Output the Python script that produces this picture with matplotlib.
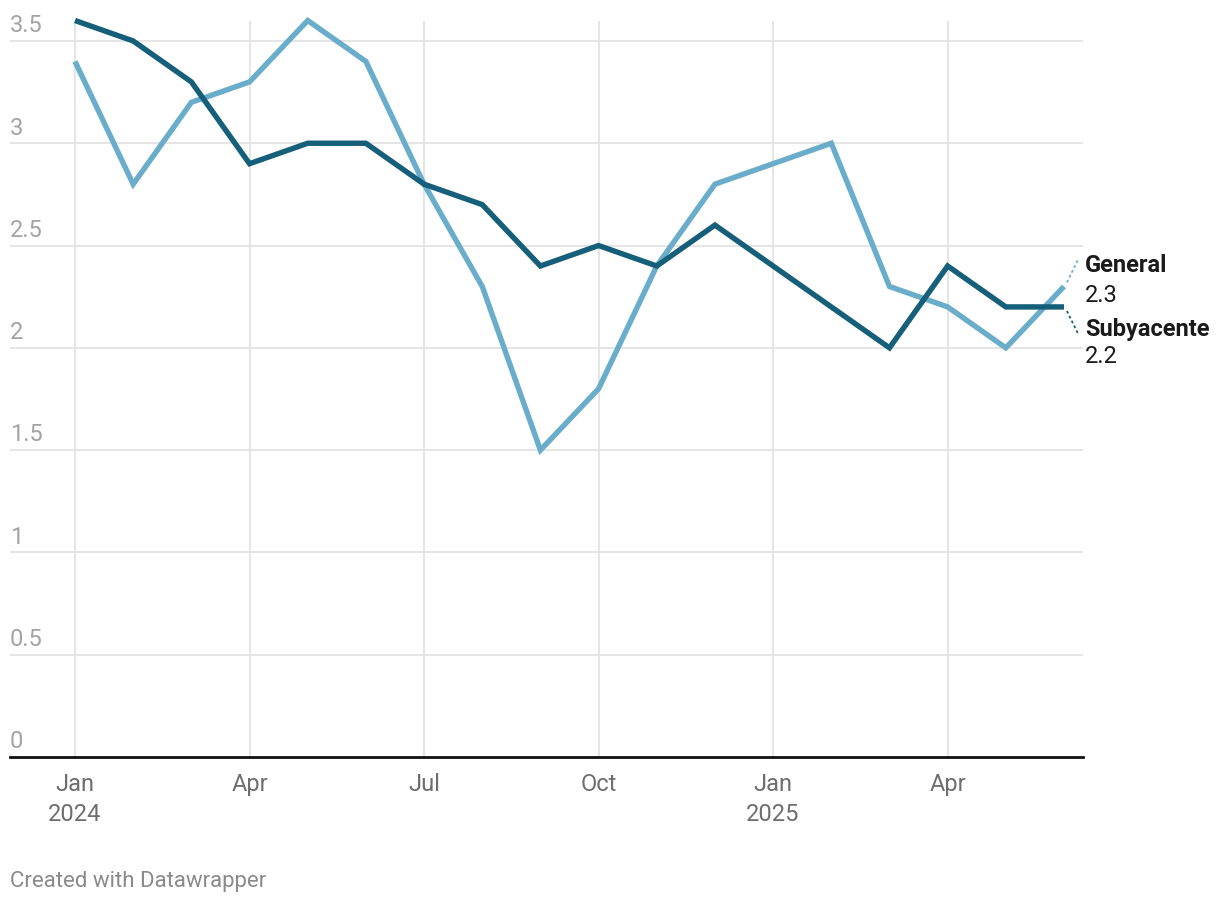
import matplotlib
matplotlib.use("Agg")
import matplotlib.pyplot as plt
import matplotlib.transforms as mtransforms

plt.rcParams['font.family'] = ['Roboto', 'DejaVu Sans']

months = ["2024-01", "2024-02", "2024-03", "2024-04", "2024-05", "2024-06",
          "2024-07", "2024-08", "2024-09", "2024-10", "2024-11", "2024-12",
          "2025-01", "2025-02", "2025-03", "2025-04", "2025-05", "2025-06"]
general = [3.4, 2.8, 3.2, 3.3, 3.6, 3.4, 2.8, 2.3, 1.5, 1.8, 2.4, 2.8,
           2.9, 3.0, 2.3, 2.2, 2.0, 2.3]
subyacente = [3.6, 3.5, 3.3, 2.9, 3.0, 3.0, 2.8, 2.7, 2.4, 2.5, 2.4, 2.6,
              2.4, 2.2, 2.0, 2.4, 2.2, 2.2]
y_ticks = [0, 0.5, 1, 1.5, 2, 2.5, 3, 3.5]
y_tick_labels = ["0", "0.5", "1", "1.5", "2", "2.5", "3", "3.5"]
x_tick_idx = [0, 3, 6, 9, 12, 15]
x_tick_labels = ["Jan\n2024", "Apr", "Jul", "Oct", "Jan\n2025", "Apr"]

c_light = "#6aadcb"
c_dark = "#165f7a"

W, H = 1220, 904
fig = plt.figure(figsize=(W / 100, H / 100), dpi=100)
ax_l, ax_r, ax_t, ax_b = 10, 1083, 21.5, 758
ax = fig.add_axes([ax_l / W, 1 - ax_b / H, (ax_r - ax_l) / W, (ax_b - ax_t) / H])

x = list(range(len(months)))
px_per = (1064 - 75) / 17
ax.set_xlim((ax_l - 75) / px_per, (ax_r - 75) / px_per)
ax.set_ylim(0, 3.6)

for s in ax.spines.values():
    s.set_visible(False)
ax.set_xticks([])
ax.set_yticks([])

# gridlines
for yt in y_ticks[1:]:
    ax.axhline(yt, color="#e3e3e3", lw=1.3, zorder=0)
for xt in x_tick_idx:
    ax.axvline(xt, color="#e3e3e3", lw=1.3, zorder=0)
ax.axhline(0, color="#111111", lw=2, zorder=3, clip_on=False)

# y tick labels above gridlines
trans_y = mtransforms.blended_transform_factory(ax.transAxes, ax.transData)
for yt, lab in zip(y_ticks, y_tick_labels):
    ax.annotate(lab, xy=(0, yt), xycoords=trans_y, xytext=(0, 7),
                textcoords="offset points", ha="left", va="baseline",
                fontsize=17, color="#a3a3a3")

# x tick labels
trans_x = mtransforms.blended_transform_factory(ax.transData, ax.transAxes)
for xt, lab in zip(x_tick_idx, x_tick_labels):
    ax.annotate(lab, xy=(xt, 0), xycoords=trans_x, xytext=(0, -11),
                textcoords="offset points", ha="center", va="top",
                fontsize=17, color="#6e6e6e", linespacing=1.4)

ax.plot(x, general, color=c_light, lw=3.9, solid_joinstyle="miter",
        solid_capstyle="butt", clip_on=False, zorder=4)
ax.plot(x, subyacente, color=c_dark, lw=3.9, solid_joinstyle="miter",
        solid_capstyle="butt", clip_on=False, zorder=5)

# direct labels with dotted connectors
last = x[-1]
ax.plot([last + 0.05, last + 0.24], [general[-1] + 0.02, general[-1] + 0.13],
        color=c_light, lw=1.3, ls=(0, (1.5, 1.5)), clip_on=False)
ax.plot([last + 0.05, last + 0.24], [subyacente[-1] - 0.02, subyacente[-1] - 0.13],
        color=c_dark, lw=1.3, ls=(0, (1.5, 1.5)), clip_on=False)

fig.text(1085 / W, 1 - 266 / H, "General", fontsize=17, fontweight="bold",
         color="#1a1a1a", ha="left", va="center")
fig.text(1085 / W, 1 - 295 / H, f"{general[-1]:.1f}", fontsize=17,
         color="#1a1a1a", ha="left", va="center")
fig.text(1085 / W, 1 - 330 / H, "Subyacente", fontsize=17, fontweight="bold",
         color="#1a1a1a", ha="left", va="center")
fig.text(1085 / W, 1 - 357 / H, f"{subyacente[-1]:.1f}", fontsize=17,
         color="#1a1a1a", ha="left", va="center")

fig.text(10 / W, 1 - 882 / H, "Created with Datawrapper", fontsize=16,
         color="#8a8a8a", ha="left", va="center")

fig.savefig("out.png", dpi=100)
